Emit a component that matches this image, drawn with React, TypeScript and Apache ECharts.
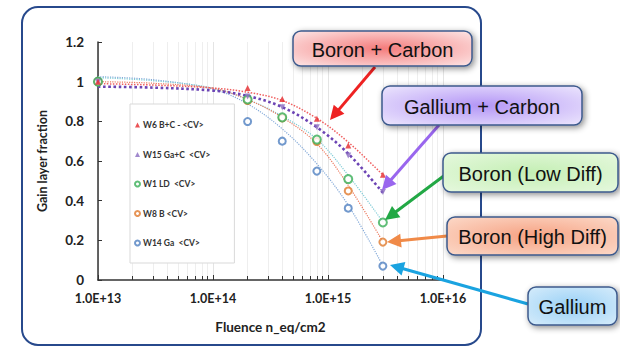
import React, { useEffect, useRef } from "react";
import * as echarts from "echarts";

// Measured gain-layer fraction vs. fluence for each wafer
const fluence = [1e13, 2e14, 4e14, 8e14, 1.5e15, 3e15];
const w6BC = [1, 0.968, 0.913, 0.813, 0.678, 0.531];
const w15GaC = [1, 0.925, 0.871, 0.77, 0.628, 0.444];
const w1LD = [1, 0.91, 0.82, 0.708, 0.509, 0.29];
const w8B = [1, 0.905, 0.817, 0.698, 0.449, 0.191];
const w14Ga = [1, 0.799, 0.7, 0.549, 0.362, 0.07];

// Trend curves (dotted) sampled along fluence
const trendFluence = [1e13, 3e13, 1e14, 2e14, 4e14, 8e14, 1.5e15, 3e15];
const trendW6 = [0.99, 0.983, 0.968, 0.947, 0.905, 0.815, 0.695, 0.53];
const trendW15 = [0.975, 0.97, 0.955, 0.928, 0.872, 0.77, 0.637, 0.44];
const trendW1 = [1.02, 1.005, 0.968, 0.91, 0.826, 0.71, 0.528, 0.293];
const trendW8 = [1.0, 0.992, 0.966, 0.91, 0.82, 0.687, 0.477, 0.193];
const trendW14 = [1.025, 1.01, 0.962, 0.888, 0.762, 0.586, 0.377, 0.072];

const legendNames = ["W6 B+C - <CV>", "W15 Ga+C  <CV>", "W1 LD  <CV>", "W8 B <CV>", "W14 Ga  <CV>"];
const yTicks = [0, 0.2, 0.4, 0.6, 0.8, 1, 1.2];

const pairs = (xs: number[], ys: number[]) => xs.map((x, i) => [x, ys[i]]);

function arrowHead(x1: number, y1: number, x2: number, y2: number, len: number, half: number) {
  const dx = x2 - x1;
  const dy = y2 - y1;
  const d = Math.hypot(dx, dy);
  const ux = dx / d;
  const uy = dy / d;
  const bx = x2 - ux * len;
  const by = y2 - uy * len;
  return {
    line: [x1, y1, bx + ux * 2, by + uy * 2],
    head: [
      [x2, y2],
      [bx - uy * half, by + ux * half],
      [bx + uy * half, by - ux * half],
    ],
  };
}

function callout(
  x: number, y: number, w: number, h: number, label: string,
  inner: string, outer: string, arrowColor: string,
  from: [number, number], to: [number, number]
) {
  const a = arrowHead(from[0], from[1], to[0], to[1], 14, 7);
  return [
    {
      type: "line",
      shape: { x1: a.line[0], y1: a.line[1], x2: a.line[2], y2: a.line[3] },
      style: { stroke: arrowColor, lineWidth: 3 },
      z: 100,
    },
    {
      type: "polygon",
      shape: { points: a.head },
      style: { fill: arrowColor },
      z: 100,
    },
    {
      type: "rect",
      shape: { x, y, width: w, height: h, r: 8 },
      style: {
        fill: new echarts.graphic.RadialGradient(0.5, 0.5, 0.7, [
          { offset: 0, color: inner },
          { offset: 1, color: outer },
        ]),
        stroke: "#3d5a8c",
        lineWidth: 1.5,
        shadowBlur: 6,
        shadowOffsetX: 2,
        shadowOffsetY: 2,
        shadowColor: "rgba(0,0,0,0.45)",
      },
      z: 101,
    },
    {
      type: "text",
      x: x + w / 2,
      y: y + h / 2 + 1,
      style: {
        text: label,
        fill: "#111",
        font: '20px "Liberation Sans", Arial, sans-serif',
        align: "center",
        verticalAlign: "middle",
      },
      z: 102,
    },
  ];
}

export default function App() {
  const ref = useRef<HTMLDivElement>(null);

  useEffect(() => {
    if (!ref.current) return;
    const chart = echarts.init(ref.current, undefined, { renderer: "svg" });
    const font = "Lato, 'Liberation Sans', sans-serif";

    const pointSeries = (name: string, ys: number[], color: string, symbol: string, size: number, rotate = 0) => ({
      name,
      type: "scatter",
      data: pairs(fluence, ys),
      symbol,
      symbolSize: size,
      symbolRotate: rotate,
      itemStyle: { color, borderColor: color, borderWidth: symbol === "emptyCircle" ? 1.6 : 0 },
      z: 5,
    });

    const trendSeries = (ys: number[], color: string, width: number) => ({
      type: "line",
      data: pairs(trendFluence, ys),
      smooth: 0.35,
      showSymbol: false,
      silent: true,
      lineStyle: { color, width, type: "dotted" },
      z: 3,
    });

    chart.setOption({
      animation: false,
      backgroundColor: "#ffffff",
      grid: { left: 98, right: 177, top: 42, bottom: 67 },
      legend: {
        orient: "vertical",
        left: 130,
        top: 104,
        data: legendNames,
        itemWidth: 5,
        itemHeight: 5,
        itemGap: 19.5,
        padding: [16, 24, 15, 4],
        backgroundColor: "#ffffff",
        borderColor: "#d9d9d9",
        borderWidth: 1,
        textStyle: { fontSize: 8.5, fontWeight: "bold", color: "#333", fontFamily: font, lineHeight: 10, padding: [0, 0, 0, -2] },
        z: 10,
      },
      xAxis: {
        type: "log",
        logBase: 10,
        min: 1e13,
        max: 1e16,
        name: "Fluence n_eq/cm2",
        nameLocation: "middle",
        nameGap: 40,
        nameTextStyle: { fontSize: 13.5, fontWeight: "bold", color: "#222", fontFamily: font },
        axisLine: { lineStyle: { color: "#333", width: 1.5 } },
        axisTick: { show: true, inside: true, length: 5, lineStyle: { color: "#333" } },
        minorTick: { show: true, splitNumber: 9, length: 4, lineStyle: { color: "#333" } },
        splitLine: { show: true, lineStyle: { color: "#e4e4e4" } },
        minorSplitLine: { show: true, lineStyle: { color: "#eeeeee" } },
        axisLabel: {
          fontSize: 12.5,
          fontWeight: "bold",
          color: "#222",
          fontFamily: font,
          margin: 12,
          formatter: (v: number) => v.toExponential(1).toUpperCase(),
        },
      },
      yAxis: {
        type: "value",
        min: 0,
        max: 1.2,
        interval: 0.2,
        name: "Gain layer fraction",
        nameLocation: "middle",
        nameGap: 49,
        nameTextStyle: { fontSize: 12.5, fontWeight: "bold", color: "#222", fontFamily: font },
        axisLine: { show: true, lineStyle: { color: "#333", width: 1.5 } },
        axisTick: { show: true, inside: true, length: 4, lineStyle: { color: "#333" } },
        splitLine: { show: false },
        axisLabel: {
          fontSize: 13.5,
          fontWeight: "bold",
          color: "#222",
          fontFamily: font,
          margin: 14,
          formatter: (v: number) => {
            const t = yTicks.find((k) => Math.abs(k - v) < 1e-9);
            return String(t ?? v);
          },
        },
      },
      series: [
        trendSeries(trendW14, "#86abd9", 1.2),
        trendSeries(trendW1, "#7fcbd6", 1.2),
        trendSeries(trendW8, "#ec7a5f", 1.2),
        trendSeries(trendW6, "#f06060", 1.5),
        trendSeries(trendW15, "#6c44b4", 2.6),
        pointSeries(legendNames[4], w14Ga, "#4f7fc0", "emptyCircle", 7),
        pointSeries(legendNames[3], w8B, "#e07a2e", "emptyCircle", 7),
        pointSeries(legendNames[2], w1LD, "#38ae56", "emptyCircle", 8),
        pointSeries(legendNames[1], w15GaC, "#8a6cc0", "triangle", 6, 180),
        pointSeries(legendNames[0], w6BC, "#e5282c", "triangle", 6),
      ],
      graphic: [
        {
          type: "rect",
          shape: { x: 22, y: 7, width: 459, height: 338, r: 16 },
          style: { fill: "none", stroke: "#27498c", lineWidth: 2 },
          z: -1,
          silent: true,
        },
        ...callout(293, 31, 179, 35, "Boron + Carbon", "#f47c7c", "#fde6e6", "#ee2222", [375, 67], [330, 120]),
        ...callout(382, 86, 200, 39, "Gallium + Carbon", "#b496f6", "#ece6fd", "#9966ee", [439, 125], [382, 190]),
        ...callout(443, 153, 175, 39, "Boron (Low Diff)", "#c4efb4", "#e6f8de", "#22a845", [445, 175], [385, 220]),
        ...callout(447, 217, 171, 38, "Boron (High Diff)", "#f6a283", "#fcd9c8", "#f08a48", [447, 236], [387, 242]),
        ...callout(528, 287, 89, 38, "Gallium", "#98d0f6", "#d6ecfb", "#1aa3e0", [528, 304], [390, 265]),
      ],
    });

    return () => chart.dispose();
  }, []);

  return (
    <div
      ref={ref}
      style={{ position: "fixed", left: 0, top: 0, width: 620, height: 347, background: "#fff" }}
    />
  );
}
